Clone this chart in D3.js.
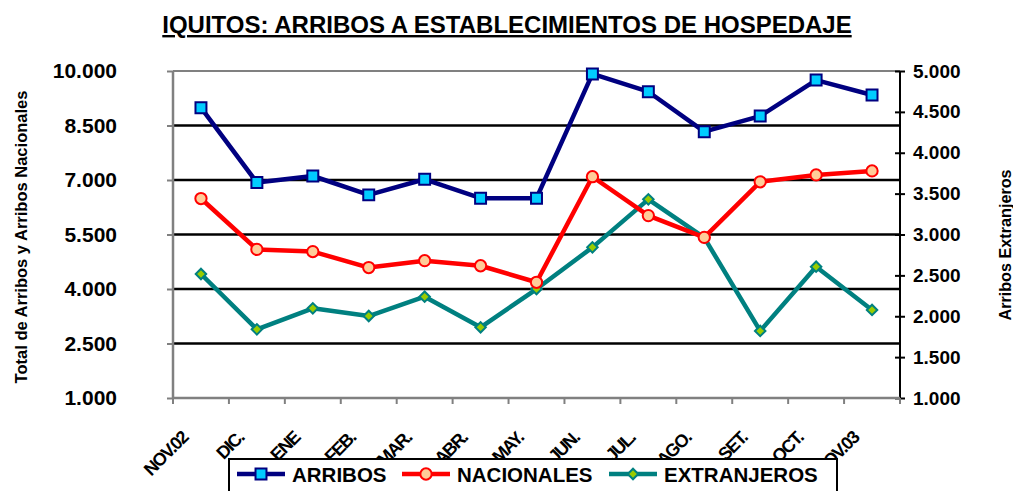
<!DOCTYPE html>
<html>
<head>
<meta charset="utf-8">
<script src="https://cdn.jsdelivr.net/npm/d3@7"></script>
<style>
  body { margin: 0; background: #fff; }
  text { font-family: "Liberation Sans", Arial, sans-serif; font-weight: bold; }
</style>
</head>
<body>
<div id="chart"></div>
<script>
//Data
var months = ["NOV.02", "DIC.", "ENE", "FEB.", "MAR.", "ABR.", "MAY.", "JUN.", "JUL.", "AGO.", "SET.", "OCT.", "NOV.03"];
var arribos = [8990, 6930, 7110, 6590, 7020, 6500, 6500, 9920, 9430, 8330, 8760, 9750, 9340];
var nacionales = [6490, 5090, 5030, 4590, 4780, 4640, 4185, 7090, 6020, 5420, 6950, 7140, 7250];
var extranjeros = [2517, 1840, 2097, 2003, 2239, 1865, 2333, 2843, 3430, 2961, 1820, 2606, 2077];
var leftTicks = [1000, 2500, 4000, 5500, 7000, 8500, 10000];
var rightTicks = [1000, 1500, 2000, 2500, 3000, 3500, 4000, 4500, 5000];

//Chart space
var svgWidth = 1013;
var svgHeight = 491;
var margin = {top: 71, right: 113, bottom: 93, left: 173};
var width = svgWidth - margin.left - margin.right;
var height = svgHeight - margin.top - margin.bottom;

var fmt = d3.formatLocale({decimal: ",", thousands: ".", grouping: [3], currency: ["", ""]}).format(",.0f");

var svg = d3.select("#chart")
    .append("svg")
    .attr("width", svgWidth)
    .attr("height", svgHeight);

var chartGroup = svg.append("g")
    .attr("transform", `translate(${margin.left}, ${margin.top})`);

//Scales
var xScale = d3.scaleBand().domain(months).range([0, width]);
var yLeft = d3.scaleLinear().domain([1000, 10000]).range([height, 0]);
var yRight = d3.scaleLinear().domain([1000, 5000]).range([height, 0]);
var xc = d => xScale(d) + xScale.bandwidth() / 2;

//Gridlines
chartGroup.selectAll(".grid")
    .data(leftTicks.slice(1, -1)).enter()
    .append("line")
    .attr("x1", 0).attr("x2", width)
    .attr("y1", d => yLeft(d)).attr("y2", d => yLeft(d))
    .attr("stroke", "#000").attr("stroke-width", 2.5);

//Top border
chartGroup.append("line")
    .attr("x1", 0).attr("x2", width).attr("y1", 0).attr("y2", 0)
    .attr("stroke", "#808080").attr("stroke-width", 2);

//Left axis
var leftAxis = chartGroup.append("g")
    .call(d3.axisLeft(yLeft).tickValues(leftTicks).tickSize(6).tickFormat(fmt));
leftAxis.select(".domain").attr("stroke", "#808080").attr("stroke-width", 2.5).attr("d", `M0,0V${height}`);
leftAxis.selectAll(".tick line").attr("stroke", "#808080").attr("stroke-width", 2);
leftAxis.selectAll(".tick text")
    .attr("x", -56)
    .attr("font-size", 21)
    .attr("fill", "#000");

//Right axis
var rightAxis = chartGroup.append("g")
    .attr("transform", `translate(${width}, 0)`)
    .call(d3.axisRight(yRight).tickValues(rightTicks).tickSize(5).tickFormat(fmt));
rightAxis.select(".domain").attr("stroke", "#000").attr("stroke-width", 2).attr("d", `M0,0V${height}`);
rightAxis.selectAll(".tick line").attr("x1", -5).attr("stroke", "#000").attr("stroke-width", 2);
rightAxis.selectAll(".tick text")
    .attr("x", 13)
    .attr("font-size", 19)
    .attr("fill", "#000");

//Bottom axis
var bottomAxis = chartGroup.append("g")
    .attr("transform", `translate(0, ${height})`);
bottomAxis.append("line")
    .attr("x1", 0).attr("x2", width)
    .attr("stroke", "#808080").attr("stroke-width", 2.5);
bottomAxis.selectAll(".xtick")
    .data(months.concat(["end"])).enter()
    .append("line")
    .attr("x1", (d, i) => i < months.length ? xScale(d) : width)
    .attr("x2", (d, i) => i < months.length ? xScale(d) : width)
    .attr("y1", 0).attr("y2", 6)
    .attr("stroke", "#808080").attr("stroke-width", 2);
bottomAxis.selectAll(".xlabel")
    .data(months).enter()
    .append("text")
    .attr("transform", d => `translate(${xc(d) - 12}, 41) rotate(-45)`)
    .attr("text-anchor", "end")
    .attr("font-size", 18)
    .attr("letter-spacing", -1.5)
    .text(d => d);

//Lines
var series = [
    {name: "ARRIBOS", values: arribos, scale: yLeft, color: "#000080", fill: "#00CCFF", marker: d3.symbolSquare, size: 120, rot: 0},
    {name: "NACIONALES", values: nacionales, scale: yLeft, color: "#FF0000", fill: "#FFCC99", marker: d3.symbolCircle, size: 100, rot: 0},
    {name: "EXTRANJEROS", values: extranjeros, scale: yRight, color: "#008080", fill: "#99CC00", marker: d3.symbolSquare, size: 55, rot: 45}
];

series.slice().reverse().forEach(function(s) {
    var line = d3.line()
        .x((d, i) => xc(months[i]))
        .y(d => s.scale(d));
    chartGroup.append("path")
        .datum(s.values)
        .attr("d", line)
        .attr("fill", "none")
        .attr("stroke", s.color)
        .attr("stroke-width", 4.5)
        .attr("stroke-linejoin", "round");
    chartGroup.selectAll(null)
        .data(s.values).enter()
        .append("path")
        .attr("d", d3.symbol().type(s.marker).size(s.size))
        .attr("transform", (d, i) => `translate(${xc(months[i])}, ${s.scale(d)}) rotate(${s.rot})`)
        .attr("fill", s.fill)
        .attr("stroke", s.color)
        .attr("stroke-width", 2);
});

//Title
svg.append("text")
    .attr("x", 507)
    .attr("y", 33)
    .attr("text-anchor", "middle")
    .attr("font-size", 24)
    .attr("text-decoration", "underline")
    .text("IQUITOS: ARRIBOS A ESTABLECIMIENTOS DE HOSPEDAJE");

//Axis titles
svg.append("text")
    .attr("transform", "translate(27, 237) rotate(-90)")
    .attr("text-anchor", "middle")
    .attr("font-size", 16.5)
    .text("Total de Arribos y Arribos Nacionales");

svg.append("text")
    .attr("transform", "translate(1011, 245) rotate(-90)")
    .attr("text-anchor", "middle")
    .attr("font-size", 16.2)
    .text("Arribos Extranjeros");

//Legend
var legend = svg.append("g");
legend.append("rect")
    .attr("x", 229).attr("y", 459)
    .attr("width", 608).attr("height", 40)
    .attr("fill", "#fff")
    .attr("stroke", "#000").attr("stroke-width", 2);

var legendX = [237, 402, 609];
series.forEach(function(s, i) {
    var g = legend.append("g").attr("transform", `translate(${legendX[i]}, 474)`);
    g.append("line")
        .attr("x1", 0).attr("x2", 48)
        .attr("stroke", s.color).attr("stroke-width", 4.5);
    g.append("path")
        .attr("d", d3.symbol().type(s.marker).size(s.size))
        .attr("transform", `translate(24, 0) rotate(${s.rot})`)
        .attr("fill", s.fill)
        .attr("stroke", s.color)
        .attr("stroke-width", 2);
    g.append("text")
        .attr("x", 55)
        .attr("y", 8)
        .attr("font-size", 20.5)
        .text(s.name);
});
</script>
</body>
</html>
